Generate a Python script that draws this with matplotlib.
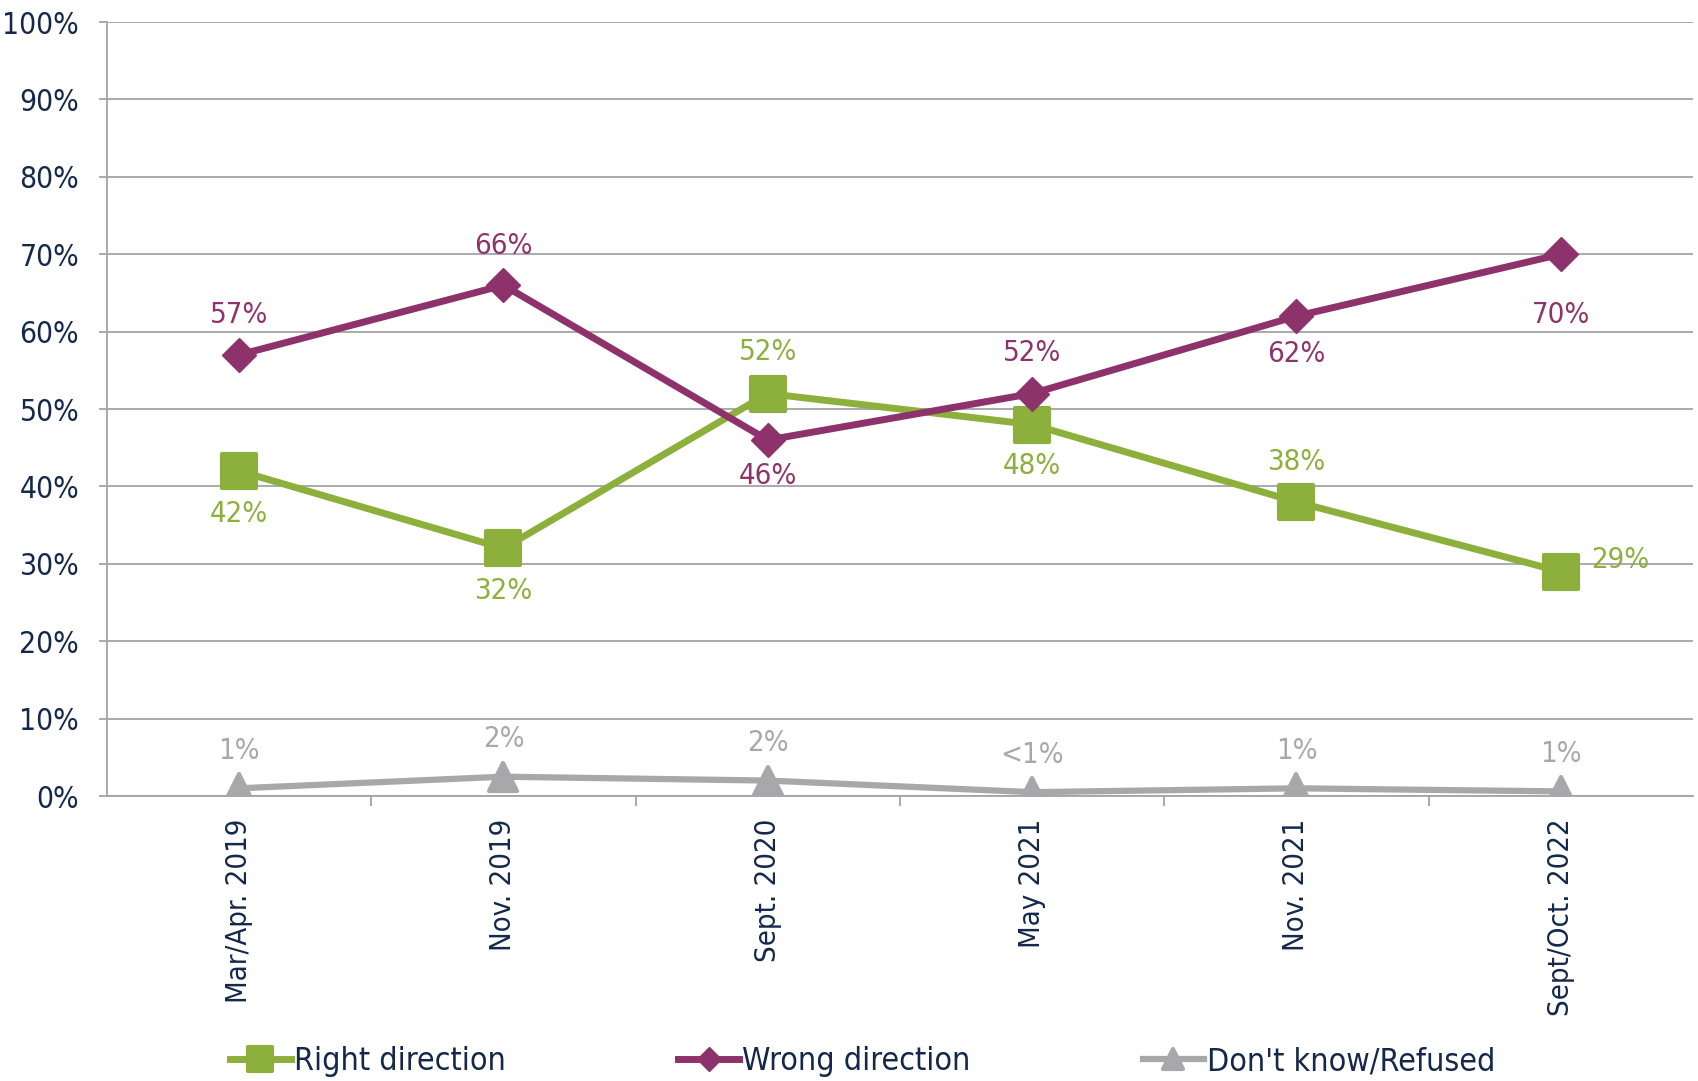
import matplotlib
matplotlib.use("Agg")
import matplotlib.pyplot as plt
from matplotlib.markers import MarkerStyle
from matplotlib.ticker import FixedLocator, PercentFormatter

plt.rcParams['font.family'] = ['DejaVu Sans']
plt.rcParams['font.stretch'] = 'condensed'

# survey waves
waves = ["Mar/Apr. 2019", "Nov. 2019", "Sept. 2020", "May 2021", "Nov. 2021", "Sept/Oct. 2022"]

right = [42, 32, 52, 48, 38, 29]
wrong = [57, 66, 46, 52, 62, 70]
dk = [1, 2.5, 2, 0.5, 1, 0.6]

right_lbl = ["42%", "32%", "52%", "48%", "38%", "29%"]
wrong_lbl = ["57%", "66%", "46%", "52%", "62%", "70%"]
dk_lbl = ["1%", "2%", "2%", "<1%", "1%", "1%"]

# label placement (offsets in points)
right_off = [(0, -31), (0, -31), (0, 30), (0, -30), (0, 29), (22, 8)]
wrong_off = [(0, 29), (0, 28), (0, -26), (0, 29), (0, -27), (0, -44)]

GREEN = "#8DAF3C"
PURPLE = "#8E326B"
GREY = "#A8A8AA"
NAVY = "#13284A"
GRID = "#A3A3A8"

fig = plt.figure(figsize=(16.98, 10.81), dpi=100)
ax = fig.add_axes([0.063, 0.2636, 0.934, 0.716])

x = list(range(len(waves)))

sq = MarkerStyle("s", joinstyle="round")
tri = MarkerStyle("^", joinstyle="round")

ax.plot(x, right, color=GREEN, lw=5, marker=sq, ms=24, mew=3, mec=GREEN,
        label="Right direction", zorder=3)
ax.plot(x, wrong, color=PURPLE, lw=5, marker="D", ms=17, mec=PURPLE,
        label="Wrong direction", zorder=4)
ax.plot(x, dk, color=GREY, lw=4.5, marker=tri, ms=20, mew=3, mec=GREY,
        label="Don't know/Refused", zorder=3)

for i in x:
    ax.annotate(right_lbl[i], (i, right[i]), xytext=right_off[i], textcoords="offset points",
                ha="left" if right_off[i][0] > 0 else "center", va="center",
                color=GREEN, fontsize=21)
    ax.annotate(wrong_lbl[i], (i, wrong[i]), xytext=wrong_off[i], textcoords="offset points",
                ha="center", va="center", color=PURPLE, fontsize=21)
    ax.annotate(dk_lbl[i], (i, dk[i]), xytext=(0, 27), textcoords="offset points",
                ha="center", va="center", color=GREY, fontsize=21)

ax.set_xlim(-0.5, len(waves) - 0.5)
ax.set_ylim(0, 100)
ax.set_yticks(range(0, 101, 10))
ax.yaxis.set_major_formatter(PercentFormatter(decimals=0))
ax.grid(axis="y", color=GRID, lw=1.3)
ax.set_axisbelow(True)

ax.set_xticks(x)
ax.set_xticklabels(waves, rotation=90, fontsize=21, color=NAVY)
ax.xaxis.set_minor_locator(FixedLocator([i + 0.5 for i in x[:-1]]))
ax.tick_params(axis="x", which="major", length=0, pad=16)
ax.tick_params(axis="x", which="minor", length=7, width=1.3, color=GRID, direction="out")
ax.tick_params(axis="y", length=6, width=1.3, color=GRID, pad=14, labelsize=21.5, labelcolor=NAVY)

for s in ["top", "right"]:
    ax.spines[s].set_visible(False)
for s in ["left", "bottom"]:
    ax.spines[s].set_color(GRID)
    ax.spines[s].set_linewidth(1.3)

leg = fig.legend(loc="center", bbox_to_anchor=(0.508, 0.018), ncol=3, frameon=False,
                 fontsize=23, handlelength=1.9, handletextpad=0.1, columnspacing=5.4,
                 markerscale=0.7)
for t in leg.get_texts():
    t.set_color(NAVY)

fig.savefig("out.png", dpi=100)
